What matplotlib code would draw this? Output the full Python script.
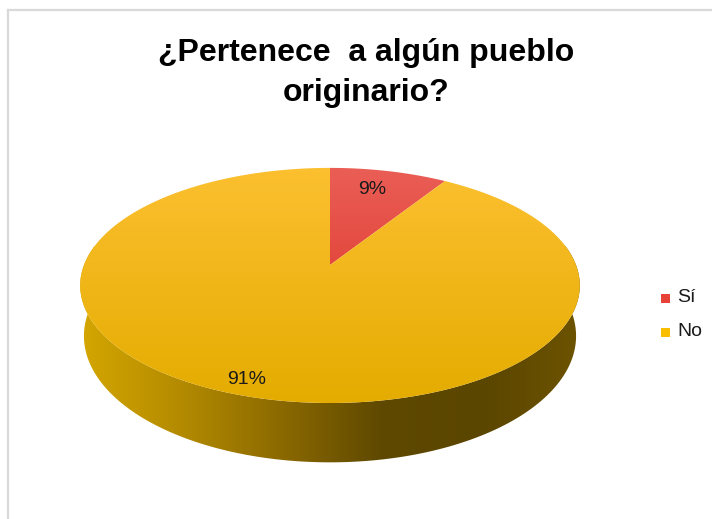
import numpy as np
import matplotlib.pyplot as plt
from matplotlib.patches import Polygon, Rectangle
from matplotlib.colors import LinearSegmentedColormap

plt.rcParams['font.family'] = ['Liberation Sans', 'DejaVu Sans']

# data
categorias = ["Sí", "No"]
porcentajes = [9, 91]
titulo = "¿Pertenece  a algún pueblo\noriginario?"

# colores (arriba / abajo del gradiente)
col_top = [("#EA5E56", "#DA2A1C"), ("#FCC030", "#E4AC00")]
col_legend = ["#E8413A", "#F9BE00"]
side_stops = ["#D6A800", "#B58C00", "#8C6A00", "#5F4900", "#5B4600", "#6E5400"]
label_r = [0.77, 0.9]
label_dt = [1.5, -2.5]  # ajuste de angulo de la etiqueta

# geometria en pixeles (pastel 3d con perspectiva simple)
W, H = 712, 519
cx, cy, a, b = 330, 265, 246, 114
persp = 0.174
depth = 49

fig = plt.figure(figsize=(W / 100, H / 100), dpi=100)
ax = fig.add_axes([0, 0, 1, 1])
ax.set_xlim(0, W)
ax.set_ylim(H, 0)
ax.axis('off')

# borde
ax.plot([8, 8], [10, H], color="#D9D9D9", lw=1.6)
ax.plot([8, W], [10, 10], color="#D9D9D9", lw=1.6)


def pt(t, r=1.0, bottom=False):
    u = r * np.cos(np.radians(t))
    v = r * np.sin(np.radians(t))
    s = 1.0 / (1 + persp * v)
    x = cx + a * u * s
    y = cy - b * v * s
    if bottom:
        x = cx + (x - cx) * 0.985
        y = y + depth * s
    return x, y


def grad_fill(poly_xy, colors, extent, horizontal=False):
    poly = Polygon(poly_xy, closed=True, facecolor='none', edgecolor='none')
    ax.add_patch(poly)
    cmap = LinearSegmentedColormap.from_list("g", colors)
    g = np.linspace(0, 1, 256)
    img = g[None, :] if horizontal else g[:, None]
    im = ax.imshow(img, cmap=cmap, extent=extent, aspect='auto',
                   origin='upper' if not horizontal else 'lower',
                   interpolation='bilinear')
    im.set_clip_path(poly)


# angulos de cada porcion (sentido horario desde arriba)
fracs = np.array(porcentajes) / sum(porcentajes)
ends = 90 - np.cumsum(fracs) * 360
starts = np.concatenate([[90], ends[:-1]])

# lado frontal
side_pts_top = [pt(t) for t in np.linspace(170, 370, 160)]
side_pts_bot = [pt(t, bottom=True) for t in np.linspace(370, 170, 160)]
grad_fill(side_pts_top + side_pts_bot, side_stops,
          (cx - a - 10, cx + a + 10, 480, 150), horizontal=True)

# superficie superior
for i in range(len(porcentajes)):
    ts = np.linspace(starts[i], ends[i], 240)
    poly = [(cx, cy)] + [pt(t) for t in ts]
    grad_fill(poly, col_top[i], (cx - a - 10, cx + a + 10, 404, 167))

# etiquetas de porcentaje
for i, p in enumerate(porcentajes):
    mid = (starts[i] + ends[i]) / 2 + label_dt[i]
    lx, ly = pt(mid, label_r[i])
    ax.text(lx, ly, f"{p}%", ha='center', va='center', fontsize=14, color="#1a1a1a")

# titulo
ax.text(366, 73, titulo, ha='center', va='center', fontsize=23,
        fontweight='bold', linespacing=1.4, color="black")

# leyenda
for i, c in enumerate(categorias):
    yy = 298 + i * 34
    ax.add_patch(Rectangle((661, yy - 4.5), 9, 9, facecolor=col_legend[i], edgecolor='none'))
    ax.text(677, yy, c, ha='left', va='center', fontsize=14, color="#1a1a1a")

plt.savefig("out.png", dpi=100)
